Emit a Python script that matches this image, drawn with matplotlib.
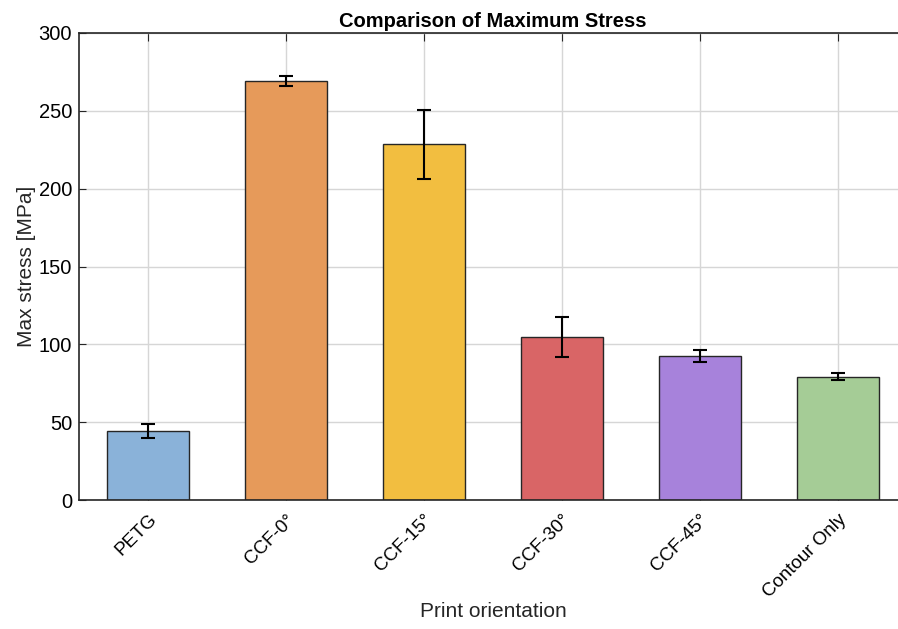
import numpy as np
import matplotlib
matplotlib.use("Agg")
import matplotlib.pyplot as plt

plt.rcParams["font.family"] = ["Liberation Sans", "DejaVu Sans"]

labels = ["PETG", "CCF-0°", "CCF-15°", "CCF-30°", "CCF-45°", "Contour Only"]
max_stress = [44.5, 269.0, 228.6, 104.7, 92.5, 79.2]
stress_err = [4.6, 3.2, 22.2, 12.6, 3.8, 2.4]
colors = ["#8AB2D9", "#E69A5A", "#F2BE40", "#D96566", "#A782DB", "#A5CC96"]

fig = plt.figure(figsize=(8.98, 6.29), dpi=100)
ax = fig.add_axes([79 / 898, 129 / 629, 828 / 898, 467 / 629])

x = np.arange(len(labels))
ax.bar(x, max_stress, width=0.6, color=colors, edgecolor="#262626", linewidth=1.0, zorder=2)
ax.errorbar(x, max_stress, yerr=stress_err, fmt="none", ecolor="black",
            elinewidth=1.5, capsize=5, capthick=1.5, zorder=3)

ax.set_xlim(-0.5, 5.5)
ax.set_ylim(0, 300)
ax.set_yticks(np.arange(0, 301, 50))
ax.set_xticks(x)
ax.set_xticklabels(labels, rotation=45, ha="right", rotation_mode="anchor", fontsize=13.5)
ax.tick_params(axis="y", labelsize=14.5, direction="in", length=5, pad=5, color="#262626")
ax.tick_params(axis="x", direction="in", length=6, top=True, bottom=True, pad=8, color="#262626")
ax.grid(True, color="#D6D6D6", linewidth=1.0, zorder=0)
ax.set_axisbelow(True)
for s in ax.spines.values():
    s.set_color("#262626")
    s.set_linewidth(1.2)

ax.set_title("Comparison of Maximum Stress", fontsize=14.5, fontweight="bold", pad=4)
ax.set_xlabel("Print orientation", fontsize=15, color="#262626", labelpad=1)
ax.set_ylabel("Max stress [MPa]", fontsize=15, color="#262626", labelpad=2)

fig.savefig("out.png", dpi=100)
